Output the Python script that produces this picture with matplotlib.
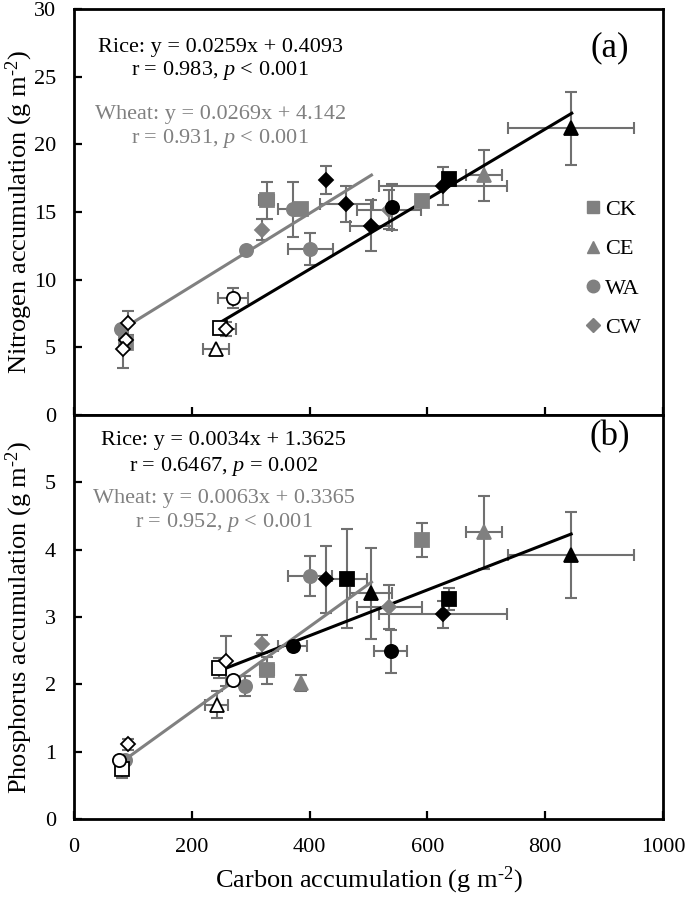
import matplotlib.pyplot as plt
from matplotlib.lines import Line2D

plt.rcParams['font.family'] = ['Liberation Serif', 'DejaVu Serif']
plt.rcParams['mathtext.fontset'] = 'custom'
plt.rcParams['mathtext.it'] = 'Liberation Serif:italic'
plt.rcParams['mathtext.rm'] = 'Liberation Serif'

# ---- panel (a) : nitrogen ----
a_grey_x = [327, 385, 590, 88, 696, 79, 292, 371, 401, 320, 535]
a_grey_y = [15.85, 15.2, 15.8, 5.3, 17.7, 6.35, 12.2, 15.2, 12.25, 13.7, 15.15]
a_grey_xe = [13, 8, 0, 0, 31, 0, 0, 25, 38, 0, 54]
a_grey_ye = [1.35, 0.3, 0, 0, 1.9, 0, 0, 2.05, 1.2, 0.75, 1.44]
a_grey_m = ['s', 's', 's', 's', '^', 'o', 'o', 'o', 'o', 'D', 'D']

a_black_x = [428, 462, 504, 626, 539, 637, 843]
a_black_y = [17.35, 15.6, 14.0, 16.9, 15.35, 17.45, 21.2]
a_black_xe = [0, 45, 36, 109, 0, 0, 107]
a_black_ye = [1.05, 1.35, 1.85, 1.4, 1.7, 0.4, 2.7]
a_black_m = ['D', 'D', 'D', 'D', 'o', 's', '^']

a_open_x = [270, 248, 258, 92, 88, 83, 241]
a_open_y = [8.67, 6.45, 6.35, 6.8, 5.55, 4.85, 4.85]
a_open_xe = [25, 0, 17, 0, 0, 0, 22]
a_open_ye = [0.74, 0, 0.5, 0.9, 0, 1.4, 0]
a_open_m = ['o', 's', 'D', 'D', 'D', 'D', '^']

# ---- panel (b) : phosphorus ----
b_grey_x = [327, 590, 385, 696, 87, 291, 401, 320, 535]
b_grey_y = [2.21, 4.14, 2.02, 4.26, 0.87, 1.98, 3.61, 2.6, 3.15]
b_grey_xe = [12, 0, 0, 31, 0, 0, 37, 0, 55]
b_grey_ye = [0.2, 0.25, 0.12, 0.54, 0, 0.15, 0.3, 0.13, 0.33]
b_grey_m = ['s', 's', '^', '^', 'o', 'o', 'o', 'D', 'D']

b_black_x = [371, 538, 428, 626, 463, 637, 504, 843]
b_black_y = [2.57, 2.49, 3.56, 3.04, 3.57, 3.27, 3.35, 3.92]
b_black_xe = [25, 28, 0, 109, 34, 0, 35, 107]
b_black_ye = [0, 0.32, 0.5, 0.2, 0.74, 0.16, 0.67, 0.64]
b_black_m = ['o', 'o', 'D', 'D', 's', 's', '^', '^']

b_open_x = [81, 247, 77, 270, 92, 258, 242]
b_open_y = [0.74, 2.24, 0.88, 2.07, 1.11, 2.35, 1.70]
b_open_xe = [0, 0, 0, 0, 0, 0, 20]
b_open_ye = [0.13, 0.15, 0, 0, 0.08, 0.37, 0.2]
b_open_m = ['s', 's', 'o', 'o', 'D', 'D', '^']

# regression lines (slope, intercept, x range)
a_rice = (0.0259, 0.4093, [245, 845])
a_wheat = (0.0269, 4.142, [81, 505])
b_rice = (0.0034, 1.3625, [242, 844])
b_wheat = (0.0063, 0.3365, [81, 505])

GREY = '#808080'
ERR = '#707070'
UNIT = ' (g m$^{\u20102}$)'


def points(ax, xs, ys, xe, ye, ms, face, edge):
    for x, y, dx, dy, m in zip(xs, ys, xe, ye, ms):
        ax.errorbar(x, y, xerr=dx if dx else None, yerr=dy if dy else None,
                    fmt='none', ecolor=ERR, elinewidth=1.5, capsize=4, capthick=1.5, zorder=2)
        size = 7.5 if m == 'D' else 9.5
        ax.plot(x, y, marker=m, ms=size, mfc=face, mec=edge, mew=1.3, ls='none', zorder=4)


def fit(ax, line, color):
    k, b, rng = line
    ax.plot(rng, [k * rng[0] + b, k * rng[1] + b], color=color, lw=2.2, zorder=3)


def style(ax):
    for s in ax.spines.values():
        s.set_linewidth(2)
    ax.tick_params(direction='in', length=6, width=1.6, labelsize=16, top=False, right=False)
    ax.tick_params(axis='y', pad=13)


fig = plt.figure(figsize=(6.85, 8.99), dpi=100)
ax1 = fig.add_axes([0.108, 0.5384, 0.860, 0.4516])
ax2 = fig.add_axes([0.108, 0.089, 0.860, 0.4494])

# panel a
points(ax1, a_grey_x, a_grey_y, a_grey_xe, a_grey_ye, a_grey_m, GREY, GREY)
points(ax1, a_black_x, a_black_y, a_black_xe, a_black_ye, a_black_m, 'black', 'black')
points(ax1, a_open_x, a_open_y, a_open_xe, a_open_ye, a_open_m, 'white', 'black')
fit(ax1, a_rice, 'black')
fit(ax1, a_wheat, GREY)
ax1.set_xlim(0, 1000)
ax1.set_ylim(0, 30)
ax1.set_yticks(range(0, 31, 5))
ax1.set_xticks(range(0, 1001, 200))
ax1.set_xticklabels([])
style(ax1)
ax1.set_ylabel('Nitrogen accumulation' + UNIT, fontsize=19)
ax1.yaxis.set_label_coords(-0.067, 0.5)
ax1.text(0.248, 0.905, 'Rice: y = 0.0259x + 0.4093', transform=ax1.transAxes,
         ha='center', va='center', fontsize=16)
ax1.text(0.248, 0.848, 'r = 0.983, $p$ < 0.001', transform=ax1.transAxes,
         ha='center', va='center', fontsize=16)
ax1.text(0.248, 0.740, 'Wheat: y = 0.0269x + 4.142', transform=ax1.transAxes,
         ha='center', va='center', fontsize=16, color=GREY)
ax1.text(0.248, 0.680, 'r = 0.931, $p$ < 0.001', transform=ax1.transAxes,
         ha='center', va='center', fontsize=16, color=GREY)
ax1.text(0.91, 0.905, '(a)', transform=ax1.transAxes, ha='center', va='center', fontsize=25)

handles = [Line2D([], [], marker=m, ls='none', color=GREY, ms=s)
           for m, s in zip(['s', '^', 'o', 'D'], [9, 9, 9, 7])]
ax1.legend(handles, ['CK', 'CE', 'WA', 'CW'], loc='center left', bbox_to_anchor=(0.835, 0.36),
           frameon=False, fontsize=16, handlelength=0.6, handletextpad=0.25, labelspacing=0.85)

# panel b
points(ax2, b_grey_x, b_grey_y, b_grey_xe, b_grey_ye, b_grey_m, GREY, GREY)
points(ax2, b_black_x, b_black_y, b_black_xe, b_black_ye, b_black_m, 'black', 'black')
points(ax2, b_open_x, b_open_y, b_open_xe, b_open_ye, b_open_m, 'white', 'black')
fit(ax2, b_rice, 'black')
fit(ax2, b_wheat, GREY)
ax2.set_xlim(0, 1000)
ax2.set_ylim(0, 6)
ax2.set_yticks(range(0, 6))
ax2.set_xticks(range(0, 1001, 200))
style(ax2)
ax2.tick_params(axis='x', pad=14)
ax2.set_ylabel('Phosphorus accumulation' + UNIT, fontsize=19)
ax2.yaxis.set_label_coords(-0.067, 0.5)
ax2.set_xlabel('Carbon accumulation' + UNIT, fontsize=19, labelpad=5)
ax2.text(0.254, 0.938, 'Rice: y = 0.0034x + 1.3625', transform=ax2.transAxes,
         ha='center', va='center', fontsize=16)
ax2.text(0.254, 0.872, 'r = 0.6467, $p$ = 0.002', transform=ax2.transAxes,
         ha='center', va='center', fontsize=16)
ax2.text(0.254, 0.793, 'Wheat: y = 0.0063x + 0.3365', transform=ax2.transAxes,
         ha='center', va='center', fontsize=16, color=GREY)
ax2.text(0.254, 0.733, 'r = 0.952, $p$ < 0.001', transform=ax2.transAxes,
         ha='center', va='center', fontsize=16, color=GREY)
ax2.text(0.91, 0.946, '(b)', transform=ax2.transAxes, ha='center', va='center', fontsize=25)

fig.savefig('out.png', dpi=100)
